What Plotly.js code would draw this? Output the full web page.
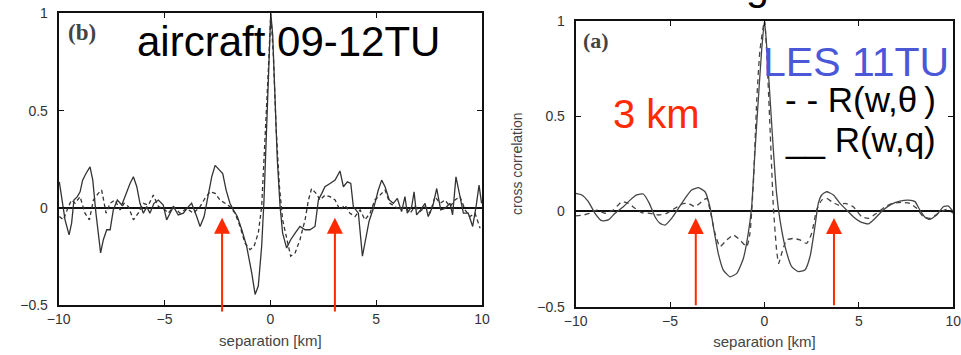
<!DOCTYPE html>
<html><head><meta charset="utf-8">
<script src="https://cdn.plot.ly/plotly-3.0.1.min.js"></script>
<style>html,body{margin:0;padding:0;background:#fff}#chart{width:961px;height:355px}</style>
</head><body><div id="chart"></div>
<script>
const W = 961, H = 355;
// aircraft 09-12TU : R(w,q) solid
const airQx = [-9.97,-9.86,-9.70,-9.51,-9.39,-9.28,-9.12,-8.99,-8.87,-8.71,-8.52,-8.39,-8.24,-8.02,-7.89,-7.73,-7.57,-7.42,-7.23,-7.02,-6.82,-6.63,-6.47,-6.31,-6.16,-6.00,-5.84,-5.69,-5.50,-5.29,-5.06,-4.90,-4.74,-4.58,-4.35,-4.11,-3.87,-3.72,-3.48,-3.32,-3.13,-2.93,-2.77,-2.61,-2.41,-2.25,-2.09,-1.91,-1.75,-1.56,-1.35,-1.12,-0.88,-0.72,-0.57,-0.41,-0.30,-0.17,-0.05,0.02,0.11,0.22,0.33,0.46,0.58,0.77,0.96,1.17,1.40,1.64,1.87,2.11,2.27,2.43,2.58,2.82,3.06,3.29,3.45,3.64,3.80,3.92,4.16,4.35,4.50,4.66,4.79,4.90,5.10,5.26,5.42,5.62,5.81,6.00,6.20,6.36,6.47,6.68,6.79,6.91,7.10,7.31,7.46,7.67,7.86,8.05,8.25,8.49,8.61,8.77,8.93,9.12,9.35,9.56,9.72,9.86,9.98];
const airQy = [0.134,0.058,-0.061,-0.138,-0.078,0.041,0.058,0.083,0.143,0.177,0.211,0.143,-0.027,-0.231,-0.163,-0.112,-0.112,-0.010,0.041,0.015,0.075,0.126,0.160,0.109,0.024,-0.027,0.007,-0.027,0.024,0.041,0.015,-0.061,-0.027,0.007,-0.036,-0.027,0.007,0.024,-0.044,-0.095,-0.044,0.075,0.160,0.219,0.194,0.177,0.092,0.024,-0.010,-0.044,-0.112,-0.197,-0.333,-0.444,-0.401,-0.197,0.041,0.415,0.789,1.0,0.891,0.551,0.245,0.007,-0.129,-0.206,-0.163,-0.129,-0.095,-0.112,-0.112,-0.095,0.041,0.075,0.109,0.126,0.143,0.190,0.109,0.134,0.126,0.007,-0.027,-0.248,-0.163,-0.070,-0.027,0.007,0.092,0.143,0.109,0.041,0.024,0.049,-0.019,0.058,-0.027,0.007,0.083,-0.036,-0.010,0.024,-0.044,0.007,0.100,-0.010,-0.002,0.024,-0.036,0.160,0.075,-0.027,-0.027,-0.095,0.007,0.117,0.024];
// aircraft : R(w,theta) dashed
const airTx = [-9.97,-9.78,-9.54,-9.39,-9.23,-8.99,-8.76,-8.55,-8.36,-8.13,-7.97,-7.76,-7.57,-7.34,-7.10,-6.91,-6.71,-6.47,-6.24,-6.00,-5.76,-5.53,-5.29,-5.06,-4.82,-4.58,-4.27,-3.95,-3.64,-3.32,-3.09,-2.85,-2.61,-2.38,-2.14,-1.91,-1.67,-1.43,-1.20,-0.96,-0.77,-0.57,-0.41,-0.25,-0.09,0.02,0.14,0.27,0.43,0.58,0.77,0.96,1.17,1.40,1.64,1.80,1.95,2.16,2.35,2.58,2.82,3.06,3.29,3.53,3.76,4.00,4.24,4.47,4.71,4.94,5.18,5.42,5.65,5.89,6.13,6.36,6.60,6.83,7.07,7.31,7.54,7.78,8.02,8.25,8.49,8.72,8.96,9.20,9.43,9.67,9.91];
const airTy = [-0.044,-0.061,0.007,0.041,0.024,0.058,-0.027,-0.061,0.041,0.075,0.092,-0.027,0.024,0.041,-0.010,0.024,0.007,-0.061,-0.027,0.024,0.015,0.066,0.007,-0.002,-0.027,0.007,-0.027,-0.002,-0.027,0.007,0.049,0.083,0.075,0.041,0.024,0.007,-0.027,-0.095,-0.180,-0.214,-0.197,-0.129,0.007,0.347,0.721,1.0,0.789,0.415,0.109,-0.061,-0.163,-0.248,-0.231,-0.163,-0.061,0.041,0.100,0.075,0.041,0.066,0.058,0.041,-0.010,0.015,-0.027,-0.044,-0.010,-0.061,-0.027,0.041,0.066,0.092,0.024,0.007,-0.010,0.007,-0.027,0.007,-0.019,0.007,-0.027,0.058,0.024,0.041,0.007,0.041,0.058,-0.010,-0.044,-0.027,-0.104];
// LES 11TU : R(w,q) solid
const lesQx = [-10,-9.68,-9.33,-8.98,-8.62,-8.27,-7.92,-7.48,-7.12,-6.77,-6.42,-6.10,-5.80,-5.53,-5.27,-4.92,-4.56,-4.21,-3.86,-3.50,-3.15,-2.89,-2.71,-2.45,-2.18,-1.83,-1.47,-1.12,-0.86,-0.68,-0.50,-0.33,-0.15,0,0.13,0.30,0.47,0.64,0.82,1.09,1.44,1.79,2.14,2.41,2.67,2.85,3.03,3.29,3.65,4.00,4.35,4.70,5.06,5.50,5.85,6.29,6.73,7.18,7.62,7.97,8.23,8.50,8.76,9.12,9.47,9.74,10];
const lesQy = [0.094,0.086,0.051,-0.010,-0.049,-0.045,-0.010,0.024,0.059,0.086,0.091,0.042,-0.028,-0.063,-0.072,-0.037,0.016,0.068,0.112,0.124,0.103,0.024,-0.080,-0.220,-0.308,-0.343,-0.325,-0.247,-0.115,0.024,0.322,0.584,0.846,1.0,0.846,0.584,0.322,0.094,-0.045,-0.185,-0.290,-0.316,-0.308,-0.238,-0.080,0.042,0.086,0.103,0.086,0.042,0.007,-0.028,-0.054,-0.066,-0.037,0.007,0.038,0.054,0.059,0.051,0.007,-0.031,-0.042,-0.019,0.024,0.028,-0.002];
// LES : R(w,theta) dashed
const lesTx = [-10,-9.59,-9.24,-8.89,-8.45,-8.01,-7.56,-7.21,-6.86,-6.50,-6.06,-5.62,-5.18,-4.74,-4.39,-4.03,-3.68,-3.33,-3.06,-2.85,-2.62,-2.36,-2.00,-1.65,-1.30,-0.94,-0.77,-0.59,-0.41,-0.24,0,0.11,0.29,0.47,0.64,0.75,0.91,1.17,1.53,1.88,2.23,2.50,2.76,3.03,3.29,3.56,3.91,4.26,4.70,5.15,5.50,5.94,6.38,6.82,7.26,7.71,8.06,8.41,8.76,9.21,9.65,10];
const lesTy = [-0.024,-0.019,-0.010,0.007,-0.010,0.007,0.051,0.042,0.016,-0.007,-0.010,-0.019,-0.010,0.016,0.038,0.042,0.024,0.051,0.068,-0.010,-0.115,-0.185,-0.150,-0.124,-0.150,-0.185,-0.115,0.147,0.584,0.846,1.0,0.846,0.444,0.024,-0.203,-0.273,-0.220,-0.150,-0.142,-0.150,-0.168,-0.115,0.007,0.059,0.068,0.051,0.033,0.042,0.024,-0.028,-0.037,-0.010,0.024,0.042,0.047,0.042,0.016,-0.028,-0.037,-0.010,0.010,-0.010];
// arrow positions (km)
const arrowsAir = [-2.28, 3.05];
const arrowsLes = [-3.64, 3.68];
const xTicks = [-10, -5, 0, 5, 10];
const yTicks = [-0.5, 0, 0.5, 1];

const SANS = 'Liberation Sans, Arial, sans-serif';
const SERIF = 'Liberation Serif, Times New Roman, serif';
const px = v => v / W, py = v => 1 - v / H;

function line(x, y, xa, ya, dash, color, spline) {
  return {x, y, xaxis: xa, yaxis: ya, type: 'scatter', mode: 'lines',
    line: {color, width: 1.3, dash, shape: spline ? 'spline' : 'linear', smoothing: 0.5},
    hoverinfo: 'skip', cliponaxis: true};
}
const traces = [
  line(airTx, airTy, 'x', 'y', '4px,3px', '#333', false),
  line(airQx, airQy, 'x', 'y', 'solid', '#333', false),
  line(lesTx, lesTy, 'x2', 'y2', '5px,4px', '#444', true),
  line(lesQx, lesQy, 'x2', 'y2', 'solid', '#444', true)
];

function xax(domain, anchor) {
  return {domain, anchor, range: [-10, 10], tickvals: xTicks, ticks: 'inside', ticklen: 5,
    tickcolor: '#111', showline: true, linecolor: '#111', linewidth: 2, mirror: 'ticks',
    showgrid: false, zeroline: false, ticklabeloverflow: 'allow',
    tickfont: {family: SANS, size: 14, color: '#333'},
    title: {text: 'separation [km]', font: {family: SANS, size: 15, color: '#444'}, standoff: 9}};
}
function yax(domain, anchor, title) {
  const a = {domain, anchor, range: [-0.5, 1], tickvals: yTicks, ticks: 'inside', ticklen: 5,
    tickcolor: '#111', showline: true, linecolor: '#111', linewidth: 2, mirror: 'ticks',
    showgrid: false, zeroline: true, zerolinecolor: '#111', zerolinewidth: 2,
    ticklabelstandoff: 6, ticklabeloverflow: 'allow', tickfont: {family: SANS, size: 14, color: '#333'}};
  if (title) a.title = {text: title, font: {family: SANS, size: 14, color: '#444'}, standoff: 11};
  return a;
}

const annotations = [];
function txt(text, x, y, size, color, family, bold) {
  annotations.push({xref: 'paper', yref: 'paper', x: px(x), y: py(y), xanchor: 'left', yanchor: 'middle',
    text: bold ? '<b>' + text + '</b>' : text, showarrow: false,
    font: {family: family || SANS, size, color}});
}
txt('(b)', 66, 33, 23, '#444', SERIF, true);
txt('(a)', 581, 41, 22, '#444', SERIF, true);
txt('aircraft 09-12TU', 135, 42, 42, '#000');
txt('LES 11TU', 761, 62, 41, '#4a58d8');
txt('- - R(w,θ\u2009)', 783, 99, 35, '#000');
txt('__ R(w,q)', 783, 140, 35, '#000');
txt('3 km', 611, 114, 40, '#ff2a00');
txt('g', 744, -14, 41, '#000');

function arrow(xv, xa, ya, tipY, tailY) {
  annotations.push({xref: xa, yref: ya, axref: xa, ayref: ya, x: xv, y: tipY, ax: xv, ay: tailY,
    text: '', showarrow: true, arrowhead: 2, arrowsize: 1.6, arrowwidth: 2, arrowcolor: '#ff2a00', standoff: 0});
}
arrowsAir.forEach(v => arrow(v, 'x', 'y', -0.05, -0.54));
arrowsLes.forEach(v => arrow(v, 'x2', 'y2', -0.035, -0.5));

const layout = {
  width: W, height: H, margin: {l: 0, r: 0, t: 0, b: 0, pad: 0},
  paper_bgcolor: '#fff', plot_bgcolor: '#fff', showlegend: false,
  xaxis: xax([58.7 / W, 482 / W], 'y'),
  yaxis: yax([1 - 305.3 / H, 1 - 13.3 / H], 'x'),
  xaxis2: xax([575.7 / W, 953.3 / W], 'y2'),
  yaxis2: yax([1 - 306.7 / H, 1 - 20.7 / H], 'x2', 'cross correlation'),
  annotations
};
Plotly.newPlot('chart', traces, layout, {staticPlot: true, displayModeBar: false});
</script></body></html>
